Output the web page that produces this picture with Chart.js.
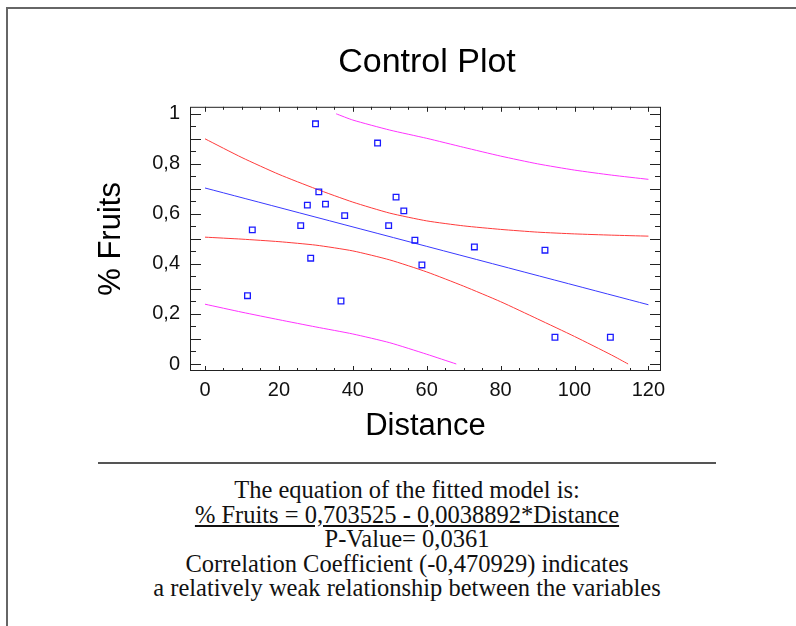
<!DOCTYPE html>
<html lang="en">
<head>
<meta charset="UTF-8">
<title>Control Plot</title>
<script src="https://cdn.jsdelivr.net/npm/chart.js"></script>
<style>
  body { margin: 0; background: #fff; }
  .page { position: relative; width: 796px; height: 626px; overflow: hidden; background: #fff; }
  .frame { position: absolute; left: 6px; top: 7px; right: -10px; bottom: -10px; border-left: 2px solid #666; border-top: 2px solid #666; }
  .chart-box { position: absolute; left: 0; top: 0; width: 796px; height: 460px; }
  .rule { position: absolute; left: 98px; top: 462px; width: 618px; border-top: 2px solid #555; }
  .notes { position: absolute; left: 60px; top: 478px; width: 694px; text-align: center;
           font-family: "Liberation Serif", serif; font-size: 24.5px; line-height: 24.5px; color: #111; }
</style>
</head>
<body>
<div class="page">
  <div class="frame"></div>
  <div class="chart-box"><canvas id="grafico" width="796" height="460"></canvas></div>
  <div class="rule"></div>
  <div class="notes">
    The equation of the fitted model is:<br>
    <u>% Fruits = 0,703525 - 0,0038892*Distance</u><br>
    P-Value= 0,0361<br>
    Correlation Coefficient (-0,470929) indicates<br>
    a relatively weak relationship between the variables
  </div>
</div>

<script>
// observations
const distance = [12.8, 11.5, 29.9, 30.8, 27.7, 32.6, 25.9, 28.6, 37.8, 36.8, 46.7, 51.7, 53.8, 49.7, 56.8, 58.7, 72.9, 92.0, 94.7, 109.7];
const fruits   = [0.536, 0.273, 0.96, 0.688, 0.635, 0.639, 0.553, 0.423, 0.593, 0.252, 0.883, 0.667, 0.612, 0.553, 0.495, 0.396, 0.468, 0.455, 0.107, 0.107];

// fitted line
const fitX = [0, 120];
const fitY = [0.7035, 0.2368];

// confidence limits (red)
const ciUpperX = [0, 10, 20, 30, 40, 50, 60, 70, 80, 90, 100, 110, 120];
const ciUpper  = [0.900, 0.825, 0.758, 0.700, 0.647, 0.603, 0.572, 0.552, 0.538, 0.527, 0.520, 0.515, 0.511];
const ciLowerX = [0, 10, 20, 30, 40, 50, 60, 70, 80, 90, 100, 110, 114.5];
const ciLower  = [0.507, 0.499, 0.489, 0.475, 0.452, 0.416, 0.368, 0.311, 0.249, 0.180, 0.110, 0.036, 0];

// prediction limits (magenta)
const piUpperX = [35.5, 40, 50, 60, 70, 80, 90, 100, 110, 120];
const piUpper  = [1.0, 0.975, 0.935, 0.902, 0.866, 0.831, 0.800, 0.775, 0.755, 0.738];
const piLowerX = [0, 10, 20, 30, 40, 50, 60, 68];
const piLower  = [0.239, 0.207, 0.177, 0.148, 0.120, 0.085, 0.039, 0];

// tick labels
const xTicks = [0, 20, 40, 60, 80, 100, 120];
const yTicks = [0, 0.2, 0.4, 0.6, 0.8, 1];

const pts = (xs, ys) => xs.map((v, i) => ({ x: v, y: ys[i] }));
const curve = (xs, ys, color) => ({
  data: pts(xs, ys), showLine: true, borderColor: color, borderWidth: 1,
  pointRadius: 0, tension: 0.2, fill: false
});

// box round the plot with inward tick marks on all four sides
const frameTicks = {
  id: 'frameTicks',
  afterDatasetsDraw(chart) {
    const { ctx, chartArea: a, scales: { x, y } } = chart;
    ctx.save();
    ctx.strokeStyle = '#222';
    ctx.lineWidth = 1;
    ctx.strokeRect(a.left + 0.5, a.top + 0.5, a.right - a.left - 1, a.bottom - a.top - 1);
    ctx.beginPath();
    for (let v = 0; v <= 120; v += 5) {
      const px = Math.round(x.getPixelForValue(v)) + 0.5;
      const len = v % 20 === 0 ? 5 : 3;
      ctx.moveTo(px, a.bottom); ctx.lineTo(px, a.bottom - len);
      ctx.moveTo(px, a.top); ctx.lineTo(px, a.top + len);
    }
    for (let i = 0; i <= 20; i++) {
      const py = Math.round(y.getPixelForValue(i * 0.05)) + 0.5;
      const len = i % 2 === 0 ? 11 : 6;
      ctx.moveTo(a.left, py); ctx.lineTo(a.left + len, py);
      ctx.moveTo(a.right, py); ctx.lineTo(a.right - len, py);
    }
    ctx.stroke();
    ctx.restore();
  }
};

const font = 'Liberation Sans, Arial, sans-serif';

new Chart(document.getElementById('grafico'), {
  type: 'scatter',
  data: {
    datasets: [
      {
        data: pts(distance, fruits), pointStyle: 'rect', pointRadius: 4,
        borderColor: '#1a1aff', borderWidth: 1.3, backgroundColor: 'rgba(0,0,0,0)'
      },
      curve(fitX, fitY, '#3a3aff'),
      curve(ciUpperX, ciUpper, '#ff3b3b'),
      curve(ciLowerX, ciLower, '#ff3b3b'),
      curve(piUpperX, piUpper, '#ff33ff'),
      curve(piLowerX, piLower, '#ff33ff')
    ]
  },
  options: {
    responsive: false,
    animation: false,
    // left padding shifts the title centre over the plot box
    layout: { padding: { left: 58, right: 0, top: 0, bottom: 0 } },
    plugins: {
      legend: { display: false },
      tooltip: { enabled: false },
      title: {
        display: true, text: 'Control Plot', color: '#000',
        font: { family: font, size: 34, weight: 'normal' },
        padding: { top: 42, bottom: 24 }
      }
    },
    scales: {
      x: {
        type: 'linear', min: -4.06, max: 123.4,
        grid: { display: false, drawTicks: false },
        border: { display: false },
        afterBuildTicks: s => { s.ticks = xTicks.map(v => ({ value: v })); },
        afterFit: s => { s.height = 89; },
        ticks: { color: '#111', padding: 7, maxRotation: 0, font: { family: font, size: 20 } },
        title: {
          display: true, text: 'Distance', color: '#000',
          font: { family: font, size: 31 }, padding: { top: 0, bottom: 15 }
        }
      },
      y: {
        type: 'linear', min: -0.028, max: 1.028,
        grid: { display: false, drawTicks: false },
        border: { display: false },
        afterBuildTicks: s => { s.ticks = yTicks.map(v => ({ value: v })); },
        afterFit: s => { s.width = 132; },
        ticks: {
          color: '#111', padding: 10, font: { family: font, size: 20 },
          callback: v => String(v).replace('.', ',')
        },
        title: {
          display: true, text: '% Fruits', color: '#000',
          font: { family: font, size: 31 }, padding: { top: 35, bottom: 0 }
        }
      },
      // empty right-hand axis that only reserves the margin right of the plot
      side: {
        type: 'linear', position: 'right', min: 0, max: 1,
        grid: { display: false, drawTicks: false },
        border: { display: false },
        ticks: { display: false },
        afterFit: s => { s.width = 135; }
      }
    }
  },
  plugins: [frameTicks]
});
</script>
</body>
</html>
